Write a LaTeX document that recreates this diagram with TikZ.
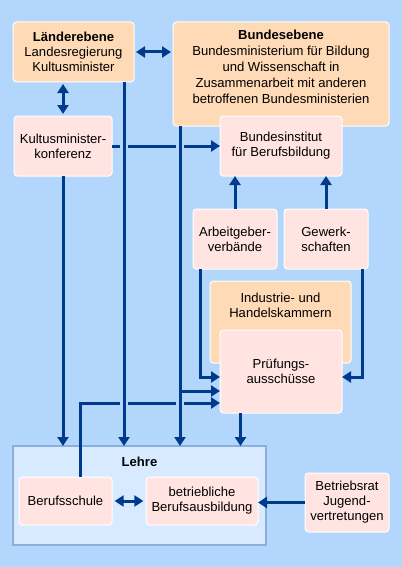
\documentclass[tikz,border=0pt]{standalone}
\usepackage{fontspec}
\setmainfont{Liberation Sans}
\usepackage{tikz}
\usetikzlibrary{arrows.meta,positioning}
\definecolor{bgblue}{RGB}{179,214,252}
\definecolor{lehrefill}{RGB}{216,234,255}
\definecolor{lehreline}{RGB}{140,174,218}
\definecolor{orangefill}{RGB}{255,218,182}
\definecolor{pinkfill}{RGB}{255,228,226}
\definecolor{arrowblue}{RGB}{0,58,140}
\tikzset{>={Triangle[length=6.75pt,width=8.25pt]}}
\newcommand{\boxfont}{\fontsize{9.8}{11.25}\selectfont}

\begin{document}
\begin{tikzpicture}[x=0.75pt,y=-0.75pt,
    boxsize/.style 2 args={minimum width=#1*0.75pt, minimum height=#2*0.75pt},
    box/.style={draw=white, line width=0.75pt, rounded corners=2.5pt, inner sep=0pt, outer sep=0pt, align=center, font=\boxfont},
    orangebox/.style={box, fill=orangefill},
    pinkbox/.style={box, fill=pinkfill},
    toptext/.style={inner sep=0pt, align=center, font=\boxfont, anchor=north},
    conn/.style={draw=arrowblue, line width=2.25pt},
    halo/.style={preaction={draw=bgblue, line width=6.2pt, -, shorten <=3pt, shorten >=10pt}}]

\useasboundingbox (0,0) rectangle (402,567);
\fill[bgblue] (0,0) rectangle (402,567);

% upper level
\node[orangebox, boxsize={121}{60}] (lae) at (73.5,52) {\textbf{Länderebene}\\Landesregierung\\Kultusminister};
\node[orangebox, boxsize={216}{104}, label={[toptext, font=\fontsize{9.8}{12}\selectfont, yshift=-6pt]north:{\textbf{Bundesebene}\\Bundesministerium für Bildung\\und Wissenschaft in\\Zusammenarbeit mit anderen\\betroffenen Bundesministerien}}] (bund) at (281,74) {};
\node[pinkbox, boxsize={98}{60}] (kmk) at (63,146) {Kultusminister-\\konferenz};
\node[pinkbox, boxsize={122}{60}] (bibb) at (281,146) {Bundesinstitut\\für Berufsbildung};

% social partners and chambers
\node[pinkbox, boxsize={84}{60}] (ag) at (235,239) {Arbeitgeber-\\verbände};
\node[pinkbox, boxsize={84}{60}] (gew) at (326,239) {Gewerk-\\schaften};
\node[orangebox, boxsize={141}{82}, label={[toptext, yshift=-8.5pt]north:{Industrie- und\\Handelskammern}}] (ihk) at (280.5,322) {};
\node[pinkbox, boxsize={122}{83}] (pa) at (281,371.5) {Prüfungs-\\ausschüsse};

% apprenticeship
\node[draw=lehreline, fill=lehrefill, line width=1.1pt, inner sep=0pt, outer sep=0pt, boxsize={253}{99}, label={[toptext, font=\boxfont\bfseries, yshift=-8pt]north:Lehre}] (lehre) at (139.5,495.5) {};
\node[pinkbox, boxsize={93}{48}] (bs) at (65.5,501) {Berufsschule};
\node[pinkbox, boxsize={112}{48}] (bb) at (202,501) {betriebliche\\Berufsausbildung};
\node[pinkbox, boxsize={84}{59}] (br) at (347,502.5) {Betriebsrat\\Jugend-\\vertretungen};

% connectors
\coordinate (v1) at (124,0);
\coordinate (v2) at (180,0);
\coordinate (v3) at (240.5,0);
\coordinate (bsup) at (80,403);
\coordinate (lift) at (180,391);
\coordinate (agdown) at (200,377);
\coordinate (gewdown) at (362,377);

\draw[conn,<->,shorten <=1.5pt,shorten >=1.5pt] (lae.east) -- (lae.east -| bund.west);
\draw[conn,<->,shorten <=1.5pt,shorten >=1.5pt] (kmk.north |- lae.south) -- (kmk.north);
\draw[conn,->] (kmk.east) -- (bibb.west);
\draw[conn,->] (bs.north -| bsup) -- (bsup) -- (pa.west |- bsup);
\draw[conn,->,halo] (lae.south -| v1) -- (lehre.north -| v1);
\draw[conn,->,halo] (bund.south -| v2) -- (lehre.north -| v2);
\draw[conn,->] (lift) -- (pa.west |- lift);
\draw[conn,->] (kmk.south) -- (kmk.south |- lehre.north);
\draw[conn,->] (pa.south -| v3) -- (lehre.north -| v3);
\draw[conn,->] (ag.north) -- (ag.north |- bibb.south);
\draw[conn,->] (gew.north) -- (gew.north |- bibb.south);
\draw[conn,->] (ag.south -| agdown) -- (agdown) -- (pa.west |- agdown);
\draw[conn,->] (gew.south -| gewdown) -- (gewdown) -- (pa.east |- gewdown);
\draw[conn,<->,shorten <=2pt,shorten >=2pt] (bs.east) -- (bb.west);
\draw[conn,->] (br.west) -- (bb.east |- br.west);

\end{tikzpicture}
\end{document}
